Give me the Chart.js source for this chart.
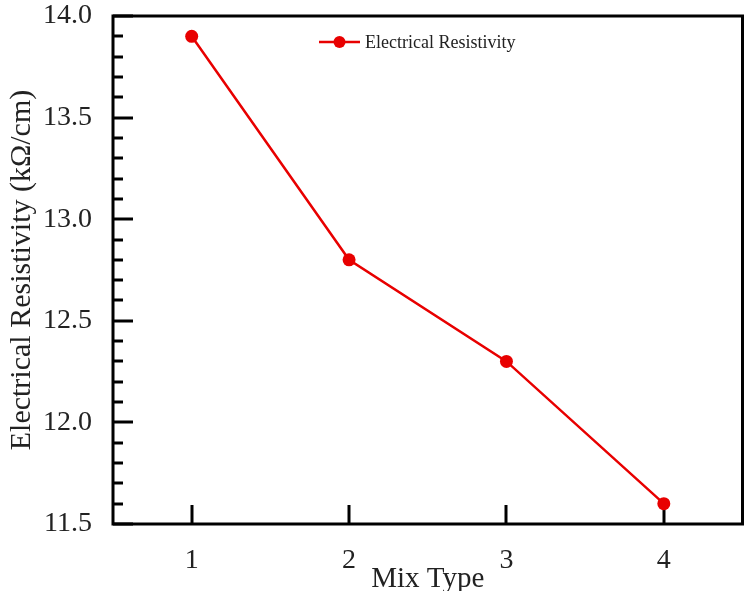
<!DOCTYPE html>
<html>
<head>
<meta charset="utf-8">
<script src="https://cdn.jsdelivr.net/npm/chart.js@4"></script>
<style>
  html, body { margin: 0; padding: 0; background: #fff; overflow: hidden; }
  #wrap { width: 749px; height: 591px; }
</style>
</head>
<body>
<div id="wrap"><canvas id="chart"></canvas></div>
<script>
// data
const mixTypes = ['1', '2', '3', '4']
const resistivity = [13.9, 12.8, 12.3, 11.6]
const seriesLabel = 'Electrical Resistivity'

const red = 'rgb(232, 0, 0)'
const serif = "'Liberation Serif', 'Times New Roman', serif"

// frame, inward ticks and the in-plot legend
const framePlugin = {
  id: 'frame',
  beforeDatasetsDraw(chart) {
    const { ctx, chartArea: a, scales } = chart
    const x = scales.x, y = scales.y
    ctx.save()
    ctx.strokeStyle = '#000'
    ctx.lineWidth = 3
    ctx.strokeRect(a.left, a.top, a.right - a.left, a.bottom - a.top)

    // y ticks: major every 0.5, minor every 0.1
    for (let i = 0; i <= 25; i++) {
      const v = 11.5 + i * 0.1
      const py = Math.round(y.getPixelForValue(v))
      const len = i % 5 === 0 ? 20 : 10
      ctx.beginPath()
      ctx.moveTo(a.left, py)
      ctx.lineTo(a.left + len, py)
      ctx.stroke()
    }
    // x ticks on each category
    mixTypes.forEach((m, i) => {
      const px = Math.round(x.getPixelForValue(i))
      ctx.beginPath()
      ctx.moveTo(px, a.bottom)
      ctx.lineTo(px, a.bottom - 19)
      ctx.stroke()
    })
    ctx.restore()
  },
  afterDraw(chart) {
    const { ctx, chartArea: a } = chart
    const lx = a.left + 206, ly = a.top + 26
    ctx.save()
    ctx.strokeStyle = red
    ctx.fillStyle = red
    ctx.lineWidth = 2.5
    ctx.beginPath()
    ctx.moveTo(lx, ly)
    ctx.lineTo(lx + 41, ly)
    ctx.stroke()
    ctx.beginPath()
    ctx.arc(lx + 20.5, ly, 6, 0, Math.PI * 2)
    ctx.fill()
    ctx.fillStyle = '#222'
    ctx.font = '18px ' + serif
    ctx.textBaseline = 'middle'
    ctx.fillText(chart.data.datasets[0].label, lx + 46, ly + 1)
    ctx.restore()
  }
}

const chart = new Chart(document.getElementById('chart'), {
  type: 'line',
  data: {
    labels: mixTypes,
    datasets: [{
      label: seriesLabel,
      data: resistivity,
      borderColor: red,
      backgroundColor: red,
      borderWidth: 2.5,
      pointRadius: 6.5,
      pointHoverRadius: 6.5,
      pointBorderWidth: 0,
      tension: 0,
    }],
  },
  options: {
    responsive: true,
    maintainAspectRatio: false,
    animation: false,
    layout: { padding: 0 },
    plugins: {
      legend: { display: false },
      tooltip: { enabled: false },
    },
    scales: {
      x: {
        type: 'category',
        offset: true,
        grid: { display: false, drawTicks: false },
        border: { display: false },
        ticks: { color: '#222', font: { family: serif, size: 28 }, padding: 20 },
        title: {
          display: true,
          text: 'Mix Type',
          color: '#222',
          font: { family: serif, size: 29 },
          padding: { top: 0, bottom: -6 },
        },
        afterFit(scale) {
          scale.height = 67
          scale.paddingLeft = 0
          scale.paddingRight = 0
        },
      },
      y: {
        min: 11.5,
        max: 14.0,
        grid: { display: false, drawTicks: false },
        border: { display: false },
        ticks: {
          stepSize: 0.5,
          color: '#222',
          font: { family: serif, size: 28, lineHeight: 1.15 },
          padding: 21,
          callback: v => v.toFixed(1),
        },
        title: {
          display: true,
          text: 'Electrical Resistivity (kΩ/cm)',
          color: '#222',
          font: { family: serif, size: 30 },
          padding: { top: 4, bottom: 0 },
        },
        afterFit(scale) {
          scale.width = 113
          scale.paddingTop = 16
          scale.paddingBottom = 0
        },
      },
    },
  },
  plugins: [framePlugin],
})
</script>
</body>
</html>
